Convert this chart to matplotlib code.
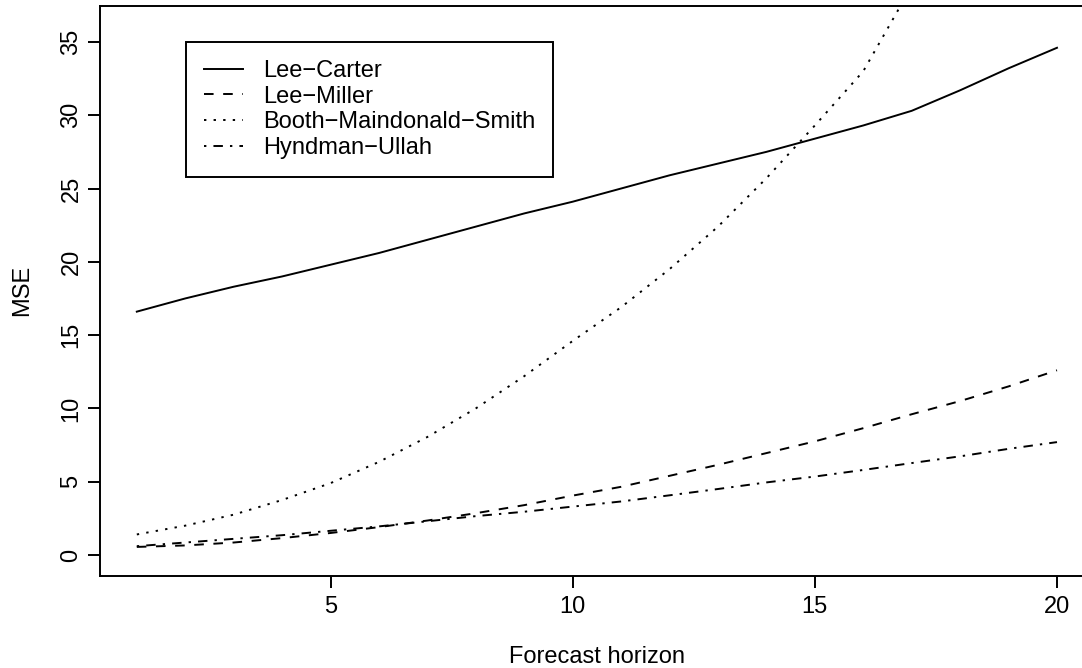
import matplotlib
matplotlib.use("Agg")
import matplotlib.pyplot as plt

plt.rcParams['font.family'] = ['Liberation Sans', 'DejaVu Sans']
plt.rcParams['lines.scale_dashes'] = False

horizon = list(range(1, 21))
lee_carter = [16.6, 17.5, 18.3, 19.0, 19.8, 20.6, 21.5, 22.4, 23.3, 24.1,
              25.0, 25.9, 26.7, 27.5, 28.4, 29.3, 30.3, 31.7, 33.2, 34.6]
lee_miller = [0.55, 0.65, 0.85, 1.15, 1.5, 1.9, 2.35, 2.85, 3.4, 4.05,
              4.65, 5.4, 6.15, 6.95, 7.75, 8.65, 9.6, 10.5, 11.5, 12.6]
booth = [1.4, 2.0, 2.75, 3.75, 4.9, 6.35, 8.05, 10.0, 12.2, 14.6,
         16.9, 19.5, 22.4, 25.7, 29.3, 33.0, 38.8, 44.0, 49.5, 55.5]
hyndman_ullah = [0.6, 0.85, 1.1, 1.35, 1.65, 1.95, 2.3, 2.65, 2.95, 3.3,
                 3.65, 4.07, 4.5, 4.95, 5.35, 5.8, 6.27, 6.73, 7.24, 7.7]
labels = ['Lee\u2212Carter', 'Lee\u2212Miller', 'Booth\u2212Maindonald\u2212Smith', 'Hyndman\u2212Ullah']
styles = ['-', (0, (6.9, 6.9)), (0, (1.7, 5.2)), (0, (1.7, 5.1, 6.8, 5.1))]

fig = plt.figure(figsize=(10.82, 6.68), dpi=100)
# plot box runs a little past the right edge, as in the reference
ax = fig.add_axes([100 / 1082, 92.5 / 668, 993.8 / 1082, 569.5 / 668])

for y, lab, ls in zip([lee_carter, lee_miller, booth, hyndman_ullah], labels, styles):
    ax.plot(horizon, y, color='black', linewidth=1.4, linestyle=ls, label=lab)

ax.set_xlim(0.24, 20.76)
ax.set_ylim(-1.4, 37.45)
ax.set_xticks([5, 10, 15, 20])
ax.set_yticks([0, 5, 10, 15, 20, 25, 30, 35])
ax.tick_params(direction='out', length=8.6, width=1.4, labelsize=17, colors='black')
ax.tick_params(axis='x', pad=6)
ax.tick_params(axis='y', pad=4)
for t in ax.get_yticklabels():
    t.set_rotation(90)
    t.set_va('center')
for s in ax.spines.values():
    s.set_linewidth(1.4)

ax.set_xlabel('Forecast horizon', fontsize=17)
ax.xaxis.set_label_coords(0.5, -0.143)
ax.xaxis.label.set_va('center')
ax.set_ylabel('MSE', fontsize=17)
ax.yaxis.set_label_coords(-0.0785, 0.5)
ax.yaxis.label.set_va('center')

leg = ax.legend(loc='upper left', bbox_to_anchor=(0.0865, 0.9368), borderaxespad=0,
                fontsize=17, frameon=True, fancybox=False, framealpha=1,
                edgecolor='black', handlelength=1.65, handletextpad=0.85,
                borderpad=0.76, labelspacing=0.16)
leg.get_frame().set_linewidth(1.4)

fig.savefig('out.png', dpi=100)
